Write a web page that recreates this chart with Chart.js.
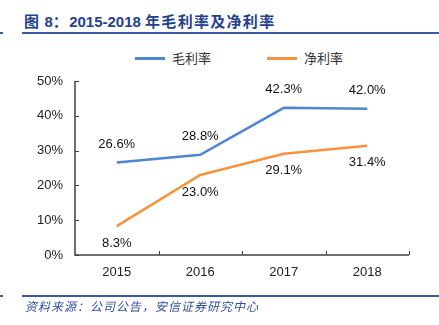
<!DOCTYPE html>
<html lang="zh">
<head>
    <meta charset="UTF-8">
    <title>2015-2018 年毛利率及净利率</title>
    <script src="https://cdn.jsdelivr.net/npm/chart.js"></script>
    <style>
        body {
            margin: 0;
            background: white;
            font-family: "Liberation Sans", Arial, "Noto Sans CJK SC", sans-serif;
        }

        .page {
            position: relative;
            width: 439px;
            height: 325px;
            overflow: hidden;
        }

        .title {
            position: absolute;
            left: 24px;
            top: 11px;
            font-size: 15px;
            font-weight: bold;
            color: #23418f;
            white-space: nowrap;
            line-height: 20px;
        }

        .title .cjk {
            font-family: "Noto Sans CJK SC", sans-serif;
            letter-spacing: 1.3px;
        }

        .rule {
            position: absolute;
            height: 2px;
            background: #3a5aa8;
        }

        .source {
            position: absolute;
            left: 25px;
            top: 297px;
            font-size: 12px;
            font-style: italic;
            letter-spacing: 1px;
            color: #2f4f9f;
            font-family: "Noto Sans CJK SC", sans-serif;
            white-space: nowrap;
        }

        .legend {
            position: absolute;
            top: 49px;
            font-size: 13px;
            color: #333;
            font-family: "Noto Sans CJK SC", sans-serif;
            line-height: 18px;
            white-space: nowrap;
        }

        .legend span.swatch {
            display: inline-block;
            width: 30px;
            height: 3px;
            vertical-align: middle;
            margin-right: 7px;
            position: relative;
            top: -1px;
        }

        canvas {
            position: absolute;
            left: 0;
            top: 0;
        }
    </style>
</head>

<body>
<div class="page">
    <div class="title"><span class="cjk">图</span> 8<span class="cjk">：</span>2015-2018 <span class="cjk">年毛利率及净利率</span></div>
    <div class="rule" style="left:0; width:3px; top:32px;"></div>
    <div class="rule" style="left:22px; width:417px; top:32px;"></div>

    <div class="legend" id="legend"></div>

    <canvas id="marginChart" width="439" height="325"></canvas>

    <div class="rule" style="left:0; width:3px; top:295px;"></div>
    <div class="rule" style="left:22px; width:417px; top:295px;"></div>
    <div class="source">资料来源：公司公告，安信证券研究中心</div>
</div>

<script>
    let years = ["2015", "2016", "2017", "2018"];
    let grossMargin = [26.6, 28.8, 42.3, 42.0];
    let netMargin = [8.3, 23.0, 29.1, 31.4];
    let seriesNames = ["毛利率", "净利率"];
    let seriesColors = ["#4f86d4", "#f7923e"];
    let yTicks = [0, 10, 20, 30, 40, 50];

    // legend (html, positioned above the plot)
    let legendPos = [135, 267];
    let legendHtml = "";
    for (let i = 0; i < seriesNames.length; i++) {
        legendHtml += `<div class="legend" style="left:${legendPos[i]}px; top:0;"><span class="swatch" style="background:${seriesColors[i]}"></span>${seriesNames[i]}</div>`;
    }
    document.getElementById("legend").innerHTML = legendHtml;

    // value labels above (blue) / below (orange) the points
    const valueLabels = {
        id: "valueLabels",
        afterDatasetsDraw(chart) {
            let ctx = chart.ctx;
            ctx.save();
            ctx.font = "13px 'Liberation Sans', Arial, sans-serif";
            ctx.fillStyle = "#111";
            ctx.textAlign = "center";
            ctx.textBaseline = "middle";
            chart.data.datasets.forEach((ds, i) => {
                let meta = chart.getDatasetMeta(i);
                let offset = i == 0 ? -18 : 17;
                meta.data.forEach((pt, j) => {
                    ctx.fillText(ds.data[j].toFixed(1) + "%", pt.x, pt.y + offset);
                });
            });
            ctx.restore();
        }
    };

    // axis lines with inward tick marks
    const axisMarks = {
        id: "axisMarks",
        beforeDatasetsDraw(chart) {
            let ctx = chart.ctx;
            let area = chart.chartArea;
            let x = chart.scales.x;
            let y = chart.scales.y;
            ctx.save();
            ctx.strokeStyle = "#404040";
            ctx.lineWidth = 1.5;
            ctx.beginPath();
            ctx.moveTo(area.left, area.top);
            ctx.lineTo(area.left, area.bottom);
            ctx.lineTo(area.right, area.bottom);
            ctx.stroke();

            ctx.lineWidth = 1;
            ctx.beginPath();
            yTicks.forEach(v => {
                let py = Math.round(y.getPixelForValue(v)) + 0.5;
                ctx.moveTo(area.left, py);
                ctx.lineTo(area.left + 4, py);
            });
            let step = (area.right - area.left) / years.length;
            for (let i = 1; i <= years.length; i++) {
                let px = Math.round(area.left + step * i) + 0.5;
                ctx.moveTo(px, area.bottom);
                ctx.lineTo(px, area.bottom - 4);
            }
            ctx.stroke();
            ctx.restore();
        }
    };

    let ctx = document.getElementById("marginChart").getContext("2d");
    let marginChart = new Chart(ctx, {
        type: "line",
        data: {
            labels: years,
            datasets: [{
                label: seriesNames[0],
                data: grossMargin,
                borderColor: seriesColors[0],
                backgroundColor: seriesColors[0],
                borderWidth: 2.5,
                pointRadius: 0,
                tension: 0
            }, {
                label: seriesNames[1],
                data: netMargin,
                borderColor: seriesColors[1],
                backgroundColor: seriesColors[1],
                borderWidth: 2.5,
                pointRadius: 0,
                tension: 0
            }]
        },
        options: {
            responsive: false,
            animation: false,
            layout: {
                padding: { left: 0, top: 81, right: 30, bottom: 45 }
            },
            plugins: {
                legend: { display: false },
                tooltip: { enabled: false }
            },
            scales: {
                x: {
                    offset: true,
                    grid: { display: false, drawTicks: false },
                    border: { display: false },
                    ticks: {
                        padding: 10,
                        color: "#222",
                        font: { family: "'Liberation Sans', Arial, sans-serif", size: 13 }
                    },
                    afterFit: scale => { scale.height = 25; }
                },
                y: {
                    min: 0,
                    max: 50,
                    afterBuildTicks: scale => { scale.ticks = yTicks.map(v => ({ value: v })); },
                    grid: { display: false, drawTicks: false },
                    border: { display: false },
                    ticks: {
                        padding: 12,
                        color: "#222",
                        font: { family: "'Liberation Sans', Arial, sans-serif", size: 13 },
                        callback: v => v + "%"
                    },
                    afterFit: scale => { scale.width = 75; }
                }
            }
        },
        plugins: [axisMarks, valueLabels]
    });
</script>
</body>
</html>
